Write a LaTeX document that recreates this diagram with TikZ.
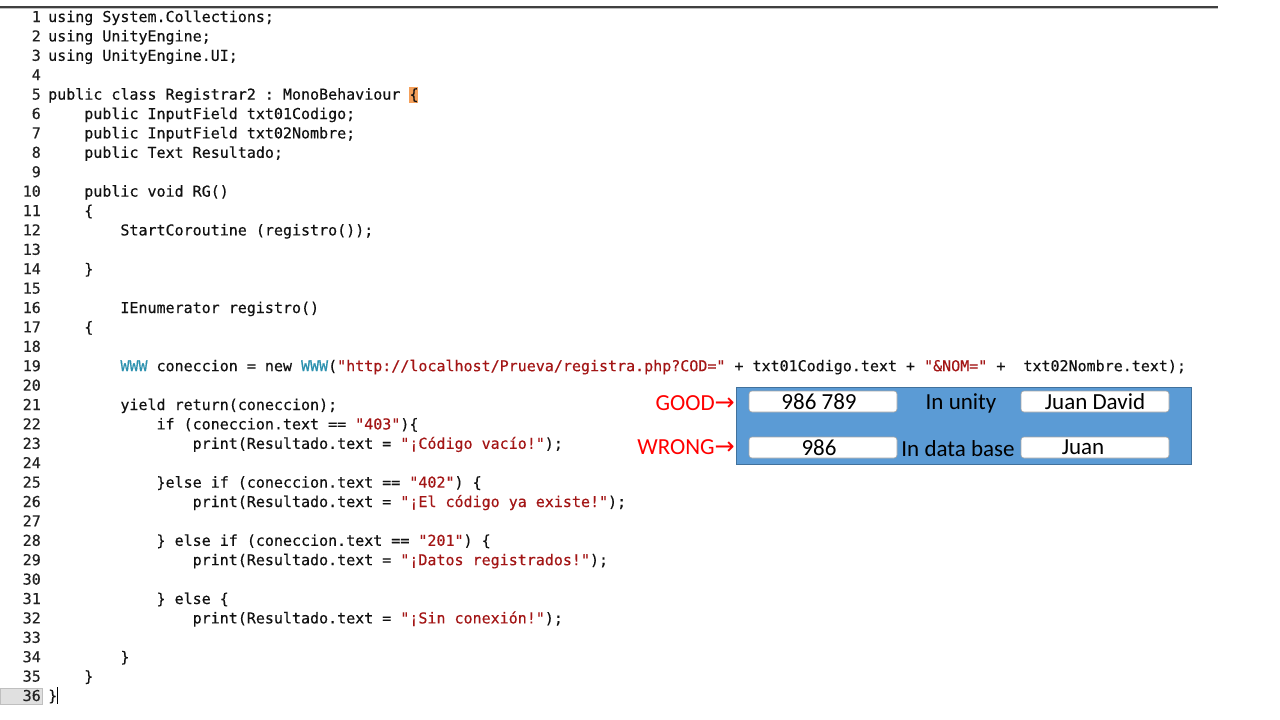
\documentclass[tikz,border=0pt]{standalone}
\usepackage{fontspec}
\setmainfont{Carlito}
\setmonofont[FakeBold=0.35]{DejaVu Sans Mono}
\newfontfamily\arrowfont{DejaVu Sans}
\definecolor{strc}{HTML}{A31515}
\definecolor{typec}{HTML}{2B91AF}
\definecolor{codec}{HTML}{111111}
\definecolor{numc}{HTML}{222222}
\definecolor{boxblue}{HTML}{5B9BD5}
\definecolor{boxedge}{HTML}{41719C}
\definecolor{hiorange}{HTML}{F5A05A}
\tikzset{
  codetxt/.style={anchor=base west, inner sep=0pt, font=\ttfamily\fontsize{15}{15}\selectfont},
  numtxt/.style={anchor=base east, inner sep=0pt, text=numc, font=\ttfamily\fontsize{15}{15}\selectfont},
  field/.style={draw=black!35, line width=0.6pt, fill=white, rounded corners=3pt, minimum width=148pt, minimum height=21pt, inner sep=0pt, text=black, font=\fontsize{23}{23}\selectfont},
  lbl/.style={inner sep=0pt, text=black, font=\fontsize{23}{23}\selectfont},
  redlbl/.style={inner sep=0pt, anchor=east, text=red, font=\fontsize{23}{23}\selectfont}
}
\newcount\segcnt
\newcommand{\seg}[4]{\global\advance\segcnt by 1
  \node[codetxt,text=#3] (seg\the\segcnt) at ({48+#2*9.03},{22+(#1-1)*19.4}) {#4};}
\begin{document}
\begin{tikzpicture}[x=1pt,y=-1pt]
\path[use as bounding box] (0,0) rectangle (1280,720);
\fill[white] (0,0) rectangle (1280,720);
% top rule
\draw[line width=2pt, draw=black!75] (0,7) -- (1218,7);
\draw[line width=0.8pt, draw=black!25] (0,8.8) -- (1218,8.8);
% highlight of brace on line 5
\fill[hiorange] (408.8,87) rectangle (417.8,103);
% current line marker
\draw[fill=black!12, draw=black!25, line width=0.6pt] (0,688) rectangle (42,704);
% line numbers
\foreach \i in {1,...,36}{
  \node[numtxt] (n\i) at (41,{22+(\i-1)*19.4}) {\i};
}
% code
\seg{1}{0}{codec}{using System.Collections;}
\seg{2}{0}{codec}{using UnityEngine;}
\seg{3}{0}{codec}{using UnityEngine.UI;}
\seg{5}{0}{codec}{public class Registrar2 : MonoBehaviour}
\seg{5}{40}{codec}{\{}
\seg{6}{4}{codec}{public InputField txt01Codigo;}
\seg{7}{4}{codec}{public InputField txt02Nombre;}
\seg{8}{4}{codec}{public Text Resultado;}
\seg{10}{4}{codec}{public void RG()}
\seg{11}{4}{codec}{\{}
\seg{12}{8}{codec}{StartCoroutine (registro());}
\seg{14}{4}{codec}{\}}
\seg{16}{8}{codec}{IEnumerator registro()}
\seg{17}{4}{codec}{\{}
\seg{19}{8}{typec}{WWW}
\seg{19}{12}{codec}{coneccion = new}
\seg{19}{28}{typec}{WWW}
\seg{19}{31}{codec}{(}
\seg{19}{32}{strc}{"http://localhost/Prueva/registra.php?COD="}
\seg{19}{76}{codec}{+ txt01Codigo.text +}
\seg{19}{97}{strc}{"\&NOM="}
\seg{19}{105}{codec}{+}
\seg{19}{108}{codec}{txt02Nombre.text);}
\seg{21}{8}{codec}{yield return(coneccion);}
\seg{22}{12}{codec}{if (coneccion.text ==}
\seg{22}{34}{strc}{"403"}
\seg{22}{39}{codec}{)\{}
\seg{23}{16}{codec}{print(Resultado.text =}
\seg{23}{39}{strc}{"¡Código vacío!"}
\seg{23}{55}{codec}{);}
\seg{25}{12}{codec}{\}else if (coneccion.text ==}
\seg{25}{40}{strc}{"402"}
\seg{25}{45}{codec}{)}
\seg{25}{47}{codec}{\{}
\seg{26}{16}{codec}{print(Resultado.text =}
\seg{26}{39}{strc}{"¡El código ya existe!"}
\seg{26}{62}{codec}{);}
\seg{28}{12}{codec}{\}}
\seg{28}{14}{codec}{else if (coneccion.text ==}
\seg{28}{41}{strc}{"201"}
\seg{28}{46}{codec}{)}
\seg{28}{48}{codec}{\{}
\seg{29}{16}{codec}{print(Resultado.text =}
\seg{29}{39}{strc}{"¡Datos registrados!"}
\seg{29}{60}{codec}{);}
\seg{31}{12}{codec}{\}}
\seg{31}{14}{codec}{else}
\seg{31}{19}{codec}{\{}
\seg{32}{16}{codec}{print(Resultado.text =}
\seg{32}{39}{strc}{"¡Sin conexión!"}
\seg{32}{55}{codec}{);}
\seg{34}{8}{codec}{\}}
\seg{35}{4}{codec}{\}}
\seg{36}{0}{codec}{\}}
% text cursor
\draw[line width=1pt, draw=black] (57.5,687) -- (57.5,704);
% blue panel
\node[draw=boxedge, fill=boxblue, line width=0.8pt, minimum width=455pt, minimum height=77pt, inner sep=0pt] (panel) at (963.5,425.5) {};
\node[field] (cod1) at (823,401.5) {986 789\hspace*{8pt}};
\node[field] (nom1) at (1095,401.5) {Juan David};
\node[field] (cod2) at (823,447.5) {986\hspace*{8pt}};
\node[field] (nom2) at (1095,447.5) {Juan\hspace*{24pt}};
\node[lbl] (unity) at (961,403) {In unity};
\node[lbl] (dbase) at (958,448.5) {In data base};
\node[redlbl] (good) at (735,403) {GOOD{\arrowfont\fontsize{24}{24}\selectfont →}};
\node[redlbl] (wrong) at (735,447) {WRONG{\arrowfont\fontsize{24}{24}\selectfont →}};
\end{tikzpicture}
\end{document}
